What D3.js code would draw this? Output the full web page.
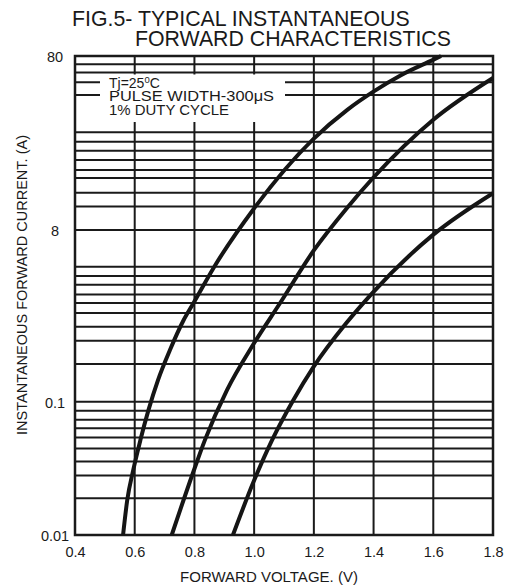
<!DOCTYPE html>
<meta charset="utf-8">
<script src="https://d3js.org/d3.v7.min.js"></script>
<style>
  body { margin: 0; background: #fff; }
  text { font-family: "Liberation Sans", Arial, sans-serif; fill: #1a1a1a; }
</style>
<div id="chart"></div>
<script>

// forward voltage (V) vs instantaneous forward current (A)
var curve1V = [0.561, 0.575, 0.595, 0.619, 0.646, 0.678, 0.718, 0.764, 0.797, 0.866, 1.001, 1.199, 1.312, 1.398, 1.493, 1.599, 1.626]
var curve1I = [0.01, 0.0183, 0.0307, 0.0516, 0.0866, 0.174, 0.374, 0.804, 1.24, 3.11, 10.7, 26.7, 39.2, 49.7, 62.2, 76.0, 80]

var curve2V = [0.724, 0.795, 0.835, 0.909, 1.000, 1.087, 1.201, 1.311, 1.398, 1.599, 1.800]
var curve2I = [0.01, 0.0292, 0.0516, 0.135, 0.447, 1.24, 4.80, 10.7, 15.9, 34.3, 59.8]

var curve3V = [0.929, 0.998, 1.060, 1.130, 1.199, 1.308, 1.395, 1.599, 1.800]
var curve3I = [0.01, 0.0251, 0.0516, 0.103, 0.244, 0.740, 1.59, 7.04, 13.0]

// axis ticks and labels as printed on the sheet
var xTicks = [0.4, 0.6, 0.8, 1.0, 1.2, 1.4, 1.6, 1.8]
var yTicks = [0.01, 0.1, 8, 80]
var yTickLabels = ["0.01", "0.1", "8", "80"]

// horizontal grid lines (A), as drawn (the sheet's grid is irregular)
var yGrid = [0.0189, 0.028, 0.0357, 0.0446, 0.0539, 0.0632, 0.0735, 0.0859, 0.1,
             0.262, 0.474, 0.678, 0.962, 1.24, 1.54, 1.97, 2.47, 3.13, 8,
             10.9, 13.1, 15.9, 17.7, 20.2, 22.8, 25.7, 29.1, 47.8, 56.5, 64.2, 71.7]

var noteLines = ["PULSE WIDTH-300\u03bcS", "1% DUTY CYCLE"]
var noteWidths = [165, 120]

var width = 511, height = 588
var margin = {top: 56, right: 18, bottom: 53, left: 75}
var innerH = height - margin.top - margin.bottom

var svg = d3.select("#chart")
  .append("svg")
    .attr("width", width)
    .attr("height", height)

var x = d3.scaleLinear()
  .domain([0.4, 1.8])
  .range([margin.left, width - margin.right])

// log scale, piecewise because the printed decades are not evenly spaced
var y = d3.scaleLog()
  .domain(yTicks)
  .range([height - margin.bottom,
          height - margin.bottom - 0.278 * innerH,
          height - margin.bottom - 0.637 * innerH,
          margin.top])

var grid = svg.append("g")
  .attr("stroke", "#1a1a1a")
  .attr("stroke-width", 2)

grid.selectAll(".hg")
  .data(yGrid)
  .enter()
  .append("line")
    .attr("x1", x(0.4))
    .attr("x2", x(1.8))
    .attr("y1", function(d){ return y(d) })
    .attr("y2", function(d){ return y(d) })

grid.selectAll(".vg")
  .data(xTicks.slice(1, -1))
  .enter()
  .append("line")
    .attr("x1", function(d){ return x(d) })
    .attr("x2", function(d){ return x(d) })
    .attr("y1", y(0.01))
    .attr("y2", y(80))

// test-condition note, blanks out the grid behind it
svg.append("rect")
  .attr("x", 100)
  .attr("y", 74.5)
  .attr("width", 185)
  .attr("height", 47.5)
  .attr("fill", "#fff")

var note = svg.append("g").style("font-size", "14px")
var tj = note.append("text").attr("x", 109).attr("y", 87.5)
tj.append("tspan").text("Tj=25")
tj.append("tspan").attr("dy", -5).style("font-size", "9.5px").text("0")
tj.append("tspan").attr("dy", 5).text("C")
note.selectAll(".nl")
  .data(noteLines)
  .enter()
  .append("text")
    .attr("x", 109)
    .attr("y", function(d, i){ return 101 + i * 13.5 })
    .attr("textLength", function(d, i){ return noteWidths[i] })
    .attr("lengthAdjust", "spacingAndGlyphs")
    .text(function(d){ return d })

// frame
svg.append("rect")
  .attr("x", x(0.4))
  .attr("y", y(80))
  .attr("width", x(1.8) - x(0.4))
  .attr("height", y(0.01) - y(80))
  .attr("fill", "none")
  .attr("stroke", "#1a1a1a")
  .attr("stroke-width", 2.5)

// characteristic curves
var line = d3.line()
  .x(function(d){ return x(d[0]) })
  .y(function(d){ return y(d[1]) })
  .curve(d3.curveMonotoneX)

var curves = [d3.zip(curve1V, curve1I), d3.zip(curve2V, curve2I), d3.zip(curve3V, curve3I)]

svg.append("g")
  .selectAll("path")
  .data(curves)
  .enter()
  .append("path")
    .attr("d", line)
    .attr("fill", "none")
    .attr("stroke", "#151515")
    .attr("stroke-width", 4)

// axes
var xAxis = svg.append("g")
  .attr("transform", "translate(0," + (y(0.01) + 22) + ")")
  .call(d3.axisBottom(x).tickValues(xTicks).tickFormat(d3.format(".1f")).tickSize(0))
xAxis.select(".domain").remove()
xAxis.attr("font-family", null)
xAxis.selectAll("text")
  .attr("y", 0)
  .attr("dy", 0)
  .style("font-size", "14.5px")
  .attr("fill", "#1a1a1a")

var yAxis = svg.append("g")
  .attr("transform", "translate(55,0)")
  .call(d3.axisLeft(y).tickValues(yTicks).tickFormat(function(d, i){ return yTickLabels[i] }).tickSize(0))
yAxis.select(".domain").remove()
yAxis.attr("font-family", null)
yAxis.selectAll("text")
  .attr("x", 0)
  .attr("text-anchor", "middle")
  .attr("dy", "0.4em")
  .style("font-size", "14.5px")
  .attr("fill", "#1a1a1a")

svg.append("text")
  .attr("x", 269)
  .attr("y", 581.5)
  .attr("text-anchor", "middle")
  .style("font-size", "15px")
  .text("FORWARD VOLTAGE. (V)")

svg.append("text")
  .attr("transform", "translate(27,285) rotate(-90)")
  .attr("text-anchor", "middle")
  .style("font-size", "14.5px")
  .text("INSTANTANEOUS FORWARD CURRENT. (A)")

// title
var title = svg.append("g").style("font-size", "21.3px")
title.append("text").attr("x", 72).attr("y", 26).text("FIG.5- TYPICAL INSTANTANEOUS")
title.append("text").attr("x", 135).attr("y", 45.5).text("FORWARD CHARACTERISTICS")

</script>
